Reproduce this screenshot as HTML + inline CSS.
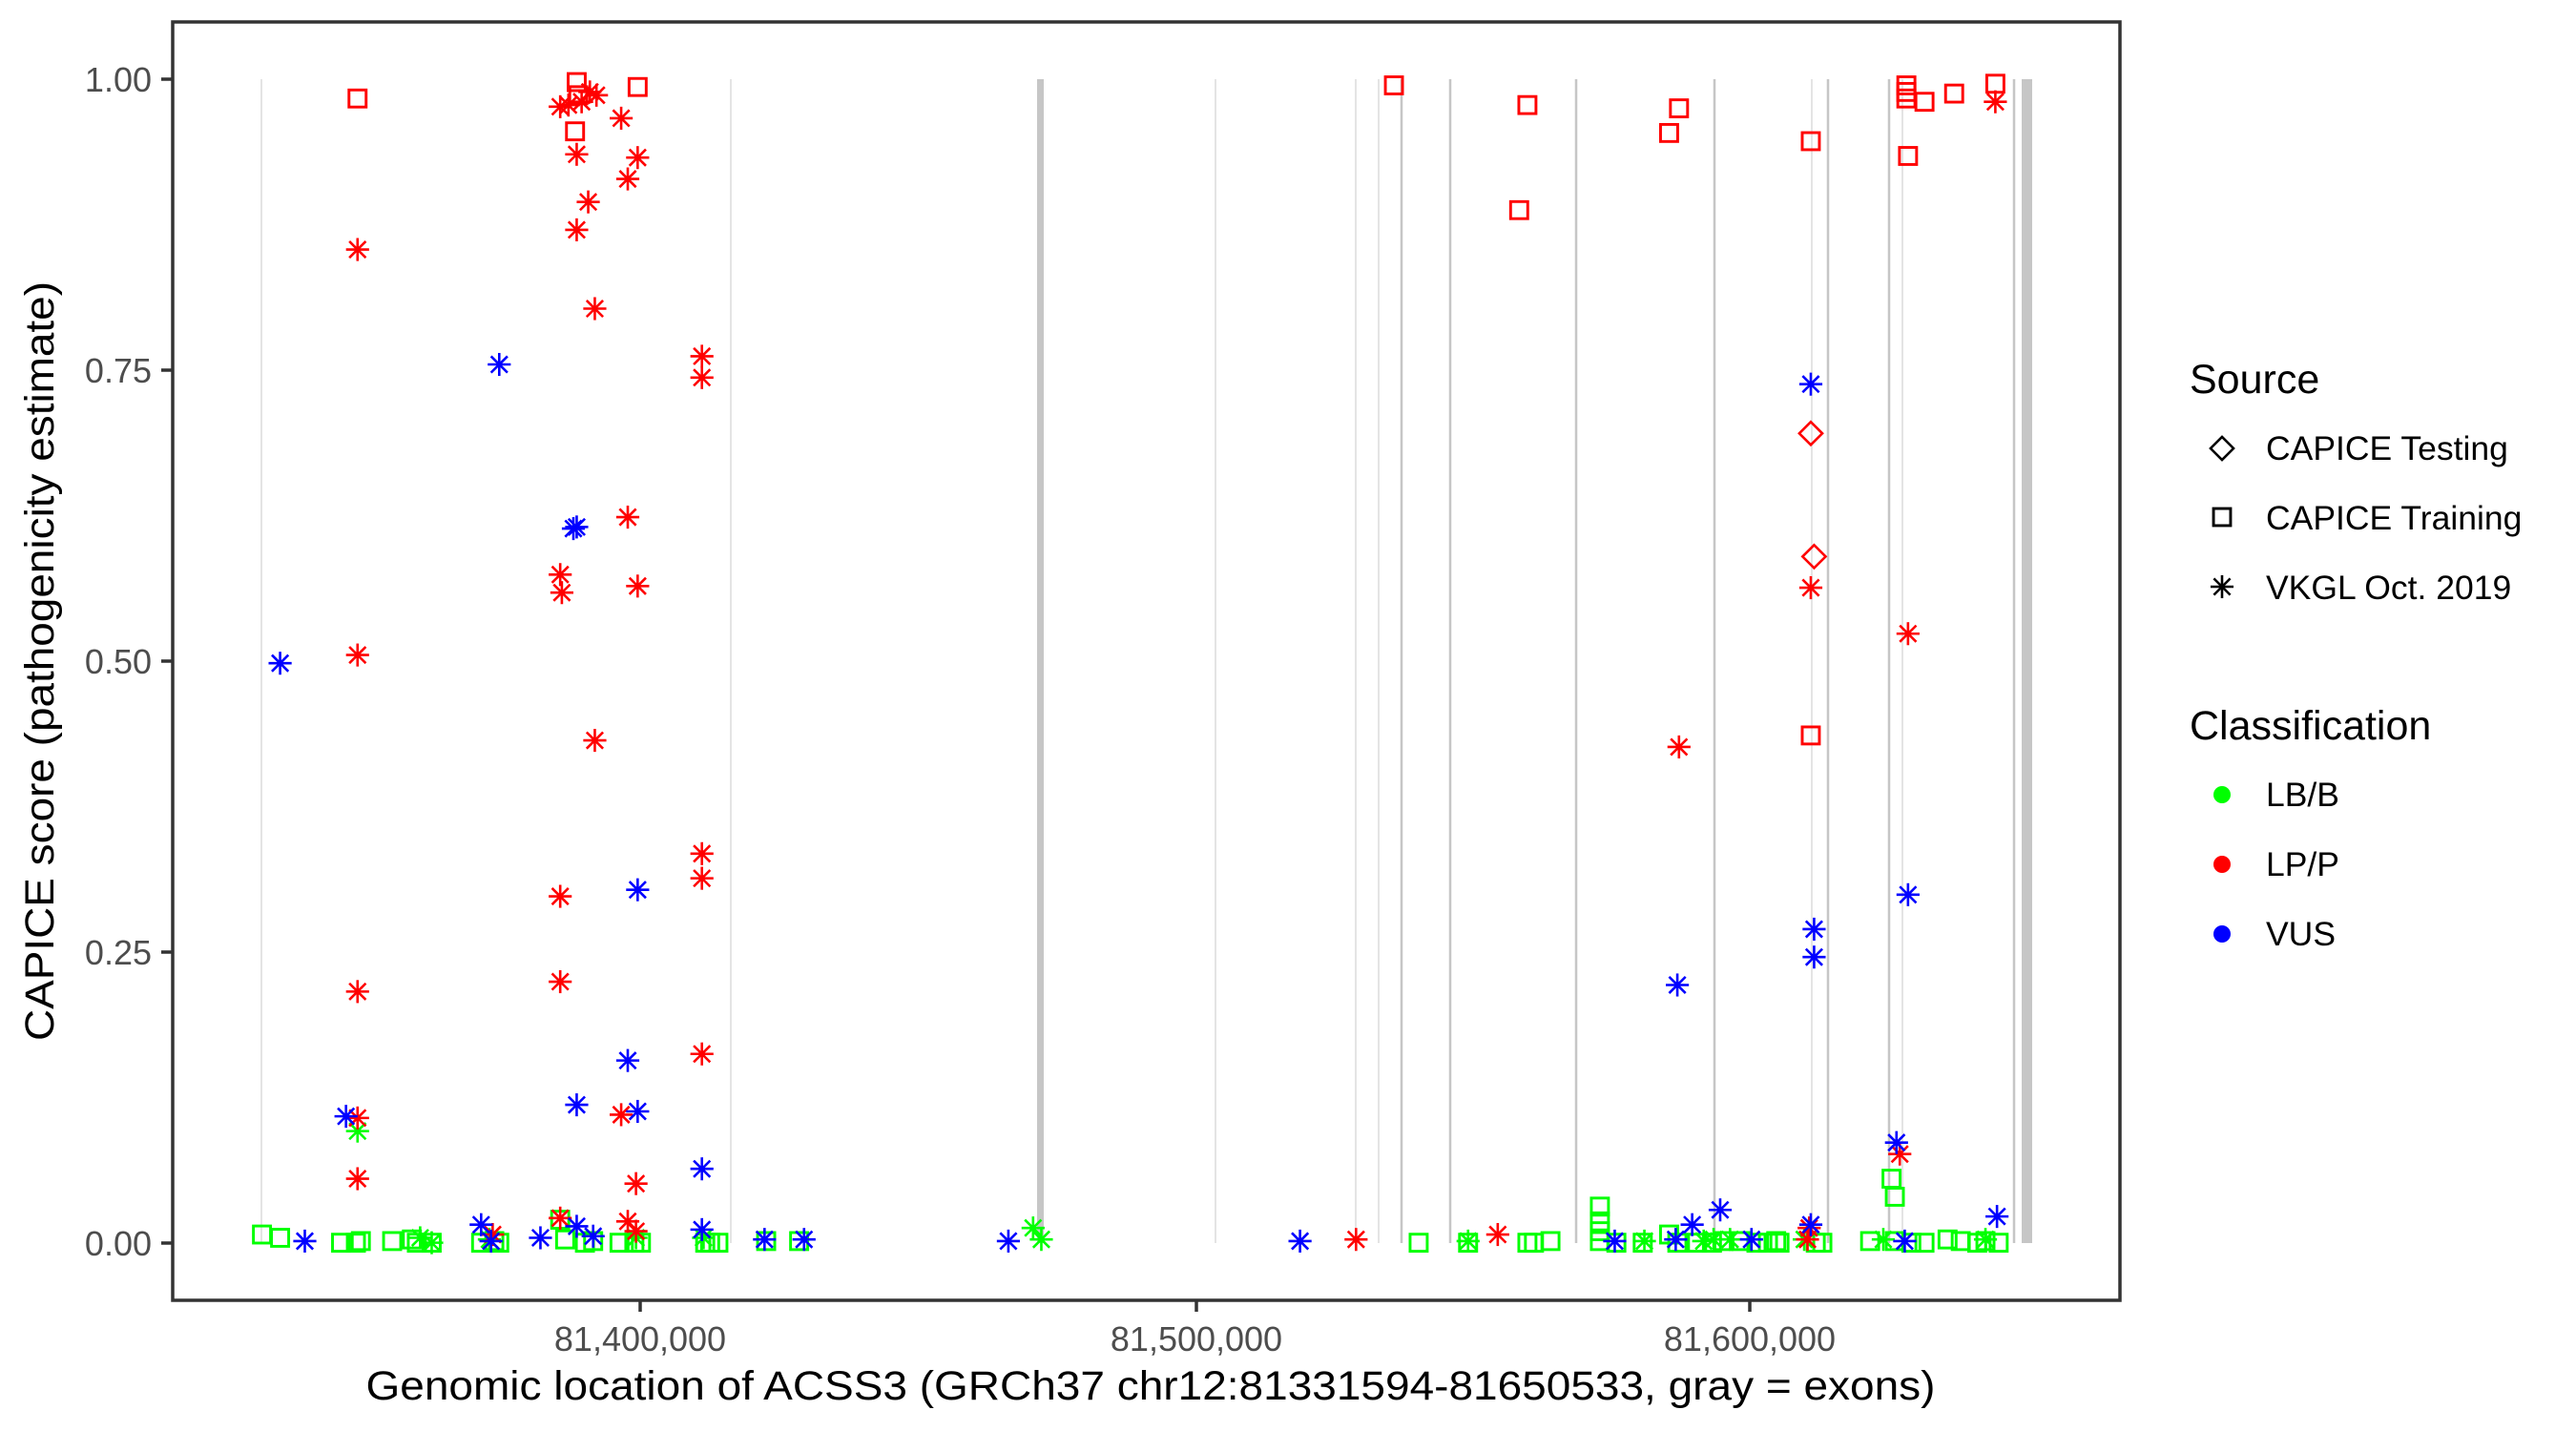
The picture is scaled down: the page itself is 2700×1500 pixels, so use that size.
<!DOCTYPE html>
<html><head><meta charset="utf-8"><style>html,body{margin:0;padding:0;background:#fff}svg{display:block}</style></head>
<body>
<svg width="2700" height="1500" xmlns="http://www.w3.org/2000/svg" font-family="'Liberation Sans', Arial, sans-serif">
<defs>
<g id="sq"><rect x="-5.2" y="-5.2" width="10.4" height="10.4" fill="none" stroke-width="1.7"/></g>
<g id="as" stroke-width="1.5"><line x1="0" y1="-7" x2="0" y2="7"/><line x1="-7" y1="0" x2="7" y2="0"/><line x1="-5" y1="-5" x2="5" y2="5"/><line x1="-5" y1="5" x2="5" y2="-5"/></g>
<g id="di"><polygon points="0,-7 7,0 0,7 -7,0" fill="none" stroke-width="1.5"/></g>
</defs>
<rect width="2700" height="1500" fill="#fff"/>
<g stroke="#dcdcdc" stroke-width="1.5">
<line x1="274" y1="83" x2="274" y2="1303"/><line x1="766" y1="83" x2="766" y2="1303"/>
<line x1="1274" y1="83" x2="1274" y2="1303"/><line x1="1421" y1="83" x2="1421" y2="1303"/><line x1="1445" y1="83" x2="1445" y2="1303"/>
<line x1="1899" y1="83" x2="1899" y2="1303"/><line x1="1994" y1="83" x2="1994" y2="1303"/>
</g>
<g stroke="#c6c6c6" stroke-width="2.5">
<line x1="1469" y1="83" x2="1469" y2="1303"/><line x1="1520" y1="83" x2="1520" y2="1303"/><line x1="1652" y1="83" x2="1652" y2="1303"/>
<line x1="1797" y1="83" x2="1797" y2="1303"/><line x1="1916" y1="83" x2="1916" y2="1303"/><line x1="1980" y1="83" x2="1980" y2="1303"/><line x1="2111" y1="83" x2="2111" y2="1303"/>
</g>
<rect x="1087" y="83" width="7" height="1220" fill="#c6c6c6"/>
<rect x="2119" y="83" width="11" height="1220" fill="#c6c6c6"/>

<g transform="scale(1.727,1.7208)">
<g stroke="#00ff00">
<use href="#sq" x="159" y="752"/><use href="#sq" x="170" y="754"/><use href="#sq" x="207" y="757"/><use href="#sq" x="216" y="757"/><use href="#sq" x="219" y="756"/><use href="#sq" x="238" y="756"/><use href="#sq" x="250" y="755"/><use href="#sq" x="253" y="757"/><use href="#sq" x="262" y="757"/><use href="#sq" x="292" y="757"/><use href="#sq" x="300" y="756"/><use href="#sq" x="303" y="757"/><use href="#sq" x="340" y="743"/><use href="#sq" x="343" y="755"/><use href="#sq" x="355" y="757"/><use href="#sq" x="360" y="756"/><use href="#sq" x="376" y="757"/><use href="#sq" x="385" y="757"/><use href="#sq" x="389" y="757"/><use href="#sq" x="428" y="757"/><use href="#sq" x="431" y="757"/><use href="#sq" x="436" y="757"/><use href="#sq" x="465" y="756"/><use href="#sq" x="485" y="756"/>
<use href="#sq" x="861" y="757"/><use href="#sq" x="891" y="757"/><use href="#sq" x="927" y="757"/><use href="#sq" x="931" y="757"/><use href="#sq" x="941" y="756"/><use href="#sq" x="971" y="735"/><use href="#sq" x="971" y="744"/><use href="#sq" x="971" y="750"/><use href="#sq" x="971" y="756"/><use href="#sq" x="981" y="757"/><use href="#sq" x="997" y="757"/><use href="#sq" x="1013" y="752"/><use href="#sq" x="1018" y="757"/><use href="#sq" x="1030" y="757"/><use href="#sq" x="1039" y="757"/><use href="#sq" x="1046" y="756"/><use href="#sq" x="1057" y="756"/><use href="#sq" x="1066" y="757"/><use href="#sq" x="1073" y="757"/><use href="#sq" x="1078" y="756"/><use href="#sq" x="1080" y="757"/><use href="#sq" x="1102" y="757"/><use href="#sq" x="1106" y="757"/><use href="#sq" x="1135" y="756"/><use href="#sq" x="1148" y="718"/><use href="#sq" x="1150" y="729"/><use href="#sq" x="1150" y="756"/><use href="#sq" x="1160" y="757"/><use href="#sq" x="1168" y="757"/><use href="#sq" x="1182" y="755"/><use href="#sq" x="1190" y="756"/><use href="#sq" x="1200" y="757"/><use href="#sq" x="1205" y="756"/><use href="#sq" x="1213" y="757"/>
<use href="#as" x="217" y="689"/><use href="#as" x="627" y="748"/><use href="#as" x="632" y="755"/><use href="#as" x="262" y="757"/><use href="#as" x="255" y="754"/><use href="#as" x="297" y="755"/><use href="#as" x="386" y="754"/><use href="#as" x="427" y="754"/><use href="#as" x="891" y="756"/><use href="#as" x="998" y="756"/><use href="#as" x="1040" y="755"/><use href="#as" x="1050" y="755"/><use href="#as" x="1095" y="755"/><use href="#as" x="1143" y="755"/><use href="#as" x="1034" y="756"/><use href="#as" x="1205" y="755"/>
</g>
<g stroke="#ff0000">
<use href="#sq" x="217" y="60"/><use href="#sq" x="350" y="50"/><use href="#sq" x="351" y="58"/><use href="#sq" x="387" y="53"/><use href="#sq" x="349" y="80"/><use href="#sq" x="846" y="52"/><use href="#sq" x="927" y="64"/><use href="#sq" x="922" y="128"/><use href="#sq" x="1019" y="66"/><use href="#sq" x="1013" y="81"/><use href="#sq" x="1099" y="86"/><use href="#sq" x="1099" y="448"/><use href="#sq" x="1157" y="52"/><use href="#sq" x="1157" y="56"/><use href="#sq" x="1157" y="60"/><use href="#sq" x="1168" y="62"/><use href="#sq" x="1186" y="57"/><use href="#sq" x="1158" y="95"/><use href="#sq" x="1211" y="51"/>
<use href="#di" x="1099" y="264"/><use href="#di" x="1101" y="339"/>
<use href="#as" x="217" y="152"/><use href="#as" x="217" y="399"/><use href="#as" x="217" y="604"/><use href="#as" x="217" y="681"/><use href="#as" x="217" y="718"/><use href="#as" x="340" y="65"/><use href="#as" x="345" y="64"/><use href="#as" x="353" y="62"/><use href="#as" x="358" y="56"/><use href="#as" x="362" y="58"/><use href="#as" x="377" y="72"/><use href="#as" x="350" y="94"/><use href="#as" x="357" y="123"/><use href="#as" x="350" y="140"/><use href="#as" x="381" y="109"/><use href="#as" x="387" y="96"/><use href="#as" x="361" y="188"/><use href="#as" x="426" y="217"/><use href="#as" x="426" y="230"/><use href="#as" x="381" y="315"/><use href="#as" x="340" y="350"/><use href="#as" x="341" y="361"/><use href="#as" x="387" y="357"/><use href="#as" x="361" y="451"/><use href="#as" x="340" y="546"/><use href="#as" x="340" y="598"/><use href="#as" x="426" y="520"/><use href="#as" x="426" y="535"/><use href="#as" x="426" y="642"/><use href="#as" x="377" y="679"/><use href="#as" x="386" y="721"/><use href="#as" x="381" y="744"/><use href="#as" x="386" y="750"/><use href="#as" x="299" y="752"/><use href="#as" x="340" y="742"/><use href="#as" x="1099" y="358"/><use href="#as" x="1019" y="455"/><use href="#as" x="1158" y="386"/><use href="#as" x="1153" y="703"/><use href="#as" x="1211" y="62"/><use href="#as" x="823" y="755"/><use href="#as" x="909" y="752"/><use href="#as" x="1098" y="748"/><use href="#as" x="1097" y="755"/>
</g>
<g stroke="#0000ff">
<use href="#as" x="170" y="404"/><use href="#as" x="303" y="222"/><use href="#as" x="210" y="680"/><use href="#as" x="350" y="321"/><use href="#as" x="348" y="322"/><use href="#as" x="350" y="673"/><use href="#as" x="381" y="646"/><use href="#as" x="387" y="542"/><use href="#as" x="387" y="677"/><use href="#as" x="426" y="712"/><use href="#as" x="292" y="746"/><use href="#as" x="350" y="747"/><use href="#as" x="328" y="754"/><use href="#as" x="185" y="756"/><use href="#as" x="298" y="756"/><use href="#as" x="360" y="753"/><use href="#as" x="426" y="749"/><use href="#as" x="464" y="755"/><use href="#as" x="488" y="755"/><use href="#as" x="612" y="756"/><use href="#as" x="789" y="756"/><use href="#as" x="1099" y="234"/><use href="#as" x="1101" y="566"/><use href="#as" x="1101" y="583"/><use href="#as" x="1018" y="600"/><use href="#as" x="1158" y="545"/><use href="#as" x="1151" y="696"/><use href="#as" x="1212" y="741"/><use href="#as" x="1044" y="737"/><use href="#as" x="1027" y="746"/><use href="#as" x="1099" y="746"/><use href="#as" x="980" y="756"/><use href="#as" x="1017" y="755"/><use href="#as" x="1063" y="755"/><use href="#as" x="1156" y="756"/>
</g>
</g>

<rect x="181" y="23" width="2041" height="1340" fill="none" stroke="#333" stroke-width="3.5"/>
<g stroke="#333" stroke-width="3.5">
<line x1="169" y1="83" x2="181" y2="83"/><line x1="169" y1="388" x2="181" y2="388"/><line x1="169" y1="693" x2="181" y2="693"/><line x1="169" y1="998" x2="181" y2="998"/><line x1="169" y1="1303" x2="181" y2="1303"/>
<line x1="671" y1="1363" x2="671" y2="1375"/><line x1="1254" y1="1363" x2="1254" y2="1375"/><line x1="1834" y1="1363" x2="1834" y2="1375"/>
</g>
<g fill="#4d4d4d" font-size="36" text-anchor="end">
<text x="159" y="96">1.00</text><text x="159" y="401">0.75</text><text x="159" y="706">0.50</text><text x="159" y="1011">0.25</text><text x="159" y="1316">0.00</text>
</g>
<g fill="#4d4d4d" font-size="36" text-anchor="middle">
<text x="671" y="1416">81,400,000</text><text x="1254" y="1416">81,500,000</text><text x="1834" y="1416">81,600,000</text>
</g>
<text x="1206" y="1467" font-size="43" text-anchor="middle" textLength="1645" lengthAdjust="spacingAndGlyphs">Genomic location of ACSS3 (GRCh37 chr12:81331594-81650533, gray = exons)</text>
<text transform="translate(56,693) rotate(-90)" font-size="43" text-anchor="middle" textLength="796" lengthAdjust="spacingAndGlyphs">CAPICE score (pathogenicity estimate)</text>

<text x="2295" y="412" font-size="43">Source</text>
<g font-size="35.5">
<text x="2375" y="482">CAPICE Testing</text>
<text x="2375" y="555">CAPICE Training</text>
<text x="2375" y="628">VKGL Oct. 2019</text>
<text x="2295" y="775" font-size="43">Classification</text>
<text x="2375" y="845">LB/B</text>
<text x="2375" y="918">LP/P</text>
<text x="2375" y="991">VUS</text>
</g>
<g stroke="#000" transform="translate(2329,470) scale(1.72)"><use href="#di"/></g>
<g stroke="#000" transform="translate(2329,542) scale(1.72)"><use href="#sq"/></g>
<g stroke="#000" transform="translate(2329,615) scale(1.72)"><use href="#as"/></g>
<circle cx="2329" cy="833" r="9" fill="#00ff00"/>
<circle cx="2329" cy="906" r="9" fill="#ff0000"/>
<circle cx="2329" cy="979" r="9" fill="#0000ff"/>
</svg>
</body></html>
